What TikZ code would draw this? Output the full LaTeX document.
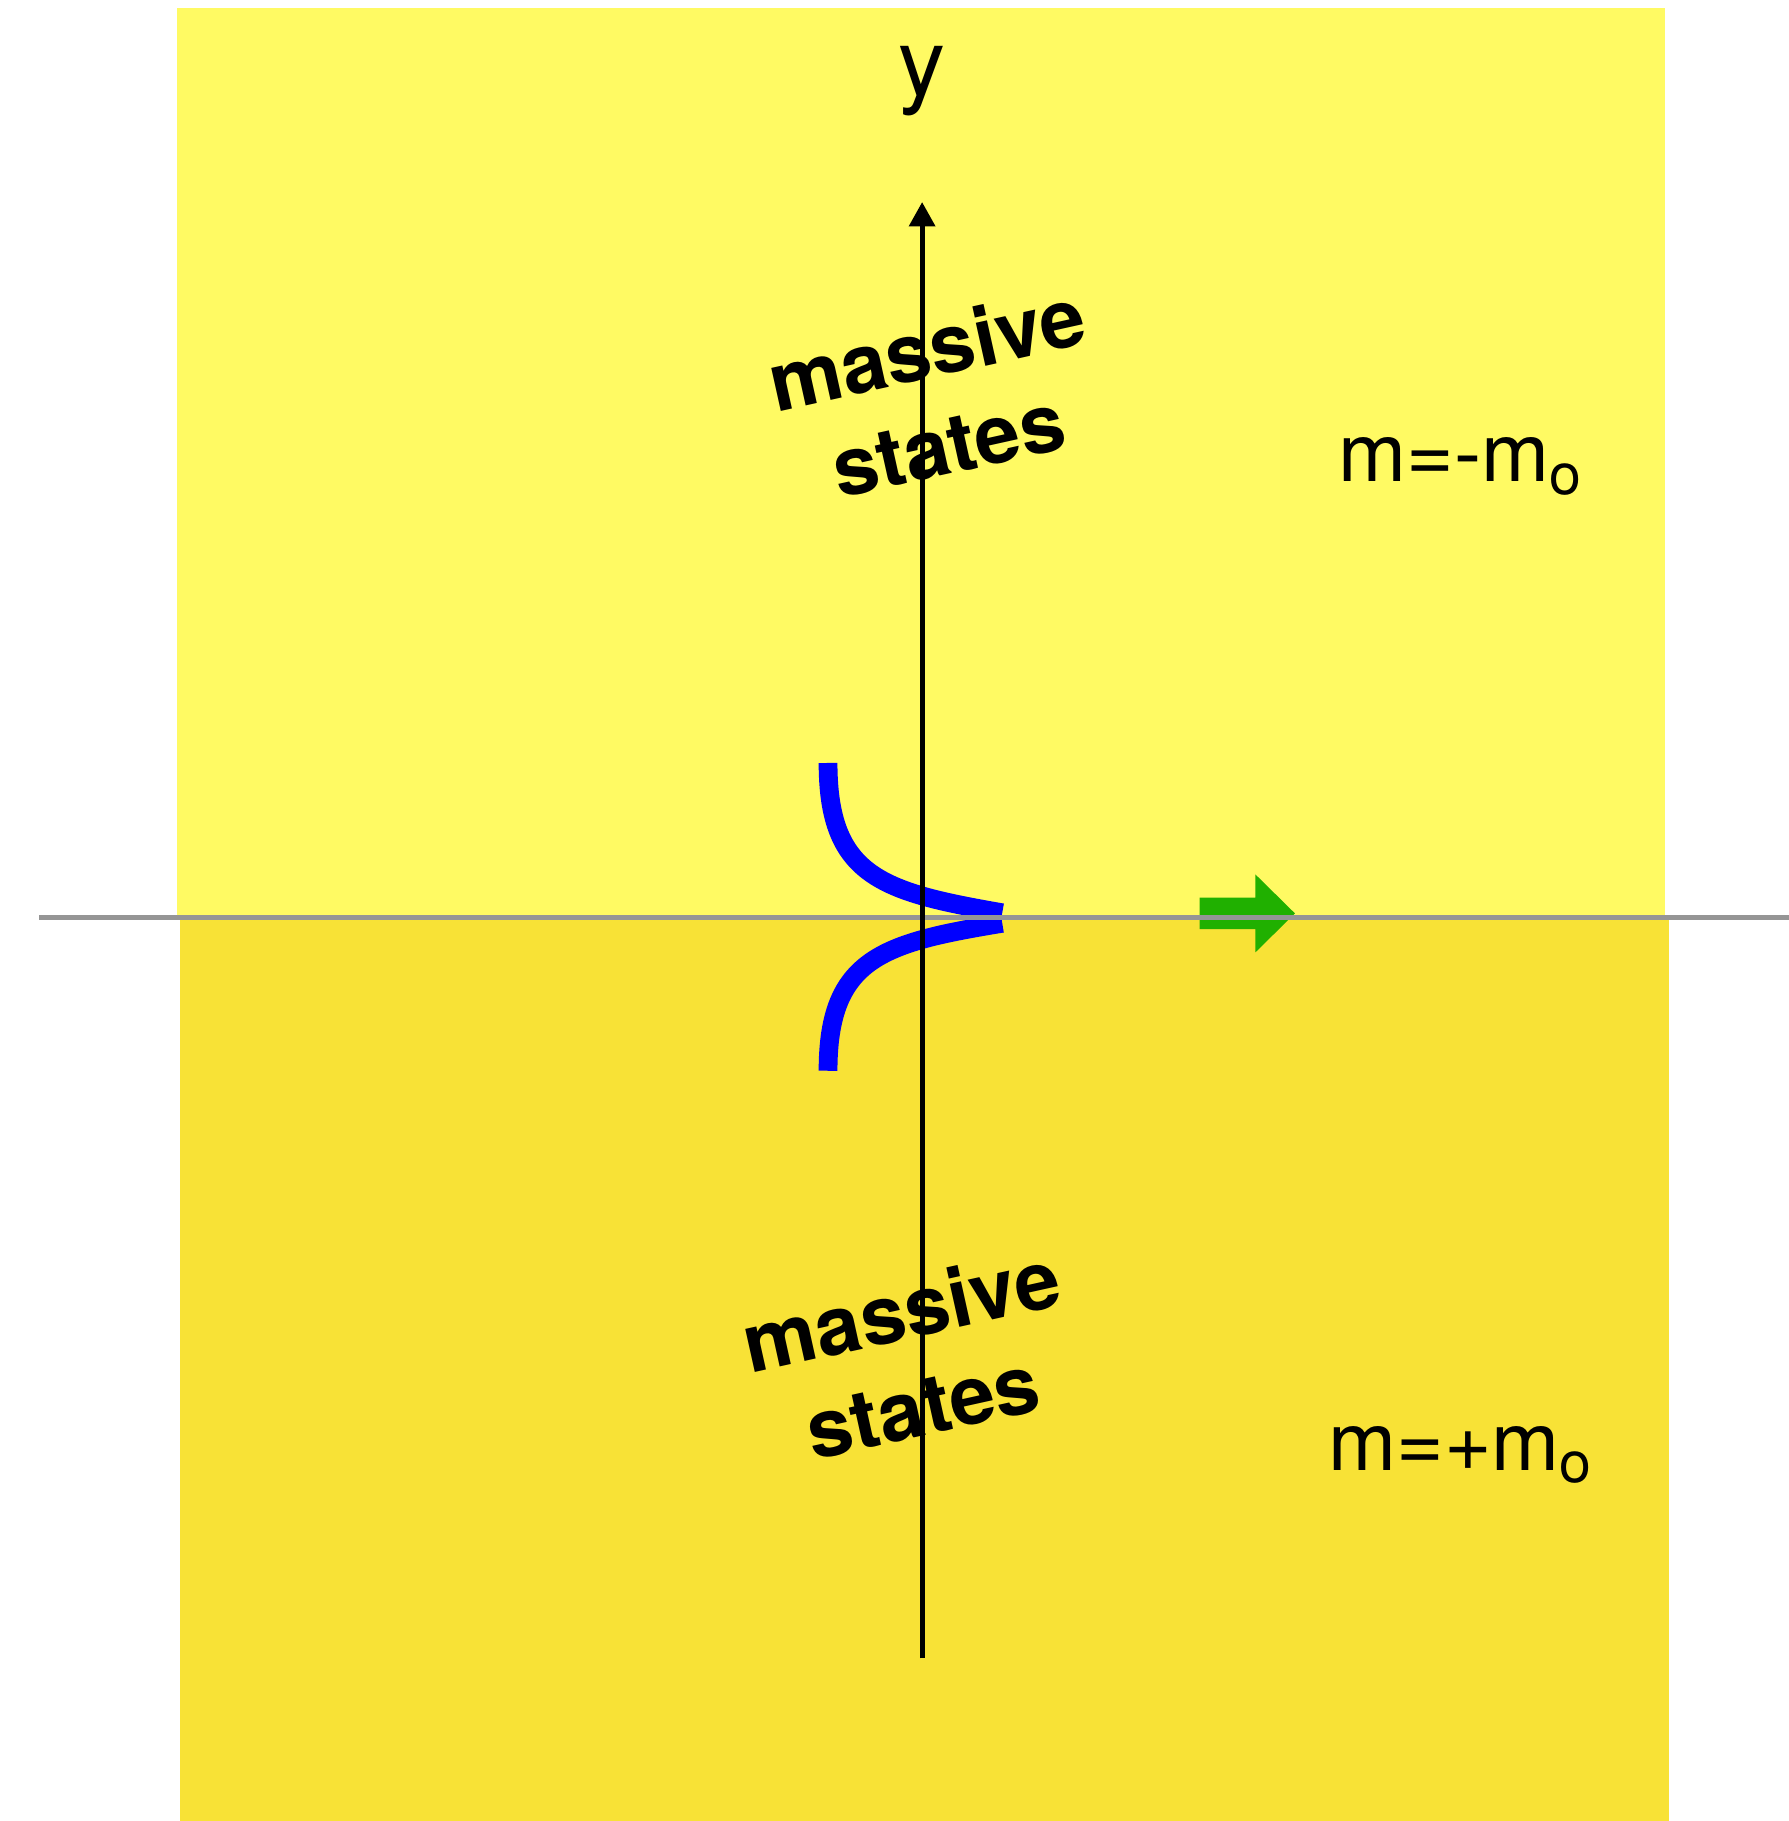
\documentclass[tikz,border=0pt]{standalone}
\usepackage{fontspec}
\setmainfont{TeX Gyre Heros}
\usetikzlibrary{arrows.meta}
\definecolor{paleYellow}{HTML}{FFFA63}
\definecolor{deepYellow}{HTML}{F8E236}
\definecolor{edgeBlue}{HTML}{0000FF}
\definecolor{flowGreen}{HTML}{20B000}
\definecolor{wallGray}{HTML}{959595}

\begin{document}
\begin{tikzpicture}[
  regionlabel/.style={font=\fontsize{20}{24}\selectfont, text=black},
  masslabel/.style={font=\fontsize{20}{24}\selectfont\bfseries, align=center, rotate=12.5, inner sep=0pt},
  edgemode/.style={edgeBlue, line width=4.6pt},
]
\useasboundingbox (0,0) rectangle (15.40,15.68);

% === REGIONS ===
\fill[paleYellow] (1.52,7.78) rectangle (14.34,15.61);
\fill[deepYellow] (1.55,0) rectangle (14.37,7.78);

% === EDGE MODE ===
\draw[edgemode] (7.13,9.11) .. controls (7.13,8.13) and (7.60,8.00) .. (8.63,7.82);
\draw[edgemode] (7.13,6.46) .. controls (7.13,7.43) and (7.60,7.56) .. (8.63,7.73);

% === PROPAGATION ===
\fill[flowGreen] (10.33,7.95) -- (10.81,7.95) -- (10.81,8.15) -- (11.15,7.815)
  -- (10.81,7.48) -- (10.81,7.68) -- (10.33,7.68) -- cycle;

% === DOMAIN WALL ===
\coordinate (wallL) at (0.34,7.78);
\coordinate (wallR) at (15.40,7.78);
\draw[wallGray, line width=1.3pt] (wallL) -- (wallR);

% === Y AXIS ===
\coordinate (axbot) at (7.94,1.40);
\coordinate (axtop) at (7.94,13.94);
\draw[line width=1.2pt, -{Triangle[length=0.21cm, width=0.22cm]}] (axbot) -- (axtop);
\node[font=\fontsize{23}{27}\selectfont, anchor=base] (ylab) at (7.94,14.86) {y};

% === LABELS ===
\node[masslabel] (massup) at (8.07,12.27) {massive\\states};
\node[masslabel] (masslow) at (7.85,3.99) {massive\\states};
\node[regionlabel, anchor=base] (mneg) at (12.58,11.53) {m=-m\textsubscript{o}};
\node[regionlabel, anchor=base] (mpos) at (12.58,3.02) {m=+m\textsubscript{o}};

\end{tikzpicture}
\end{document}
